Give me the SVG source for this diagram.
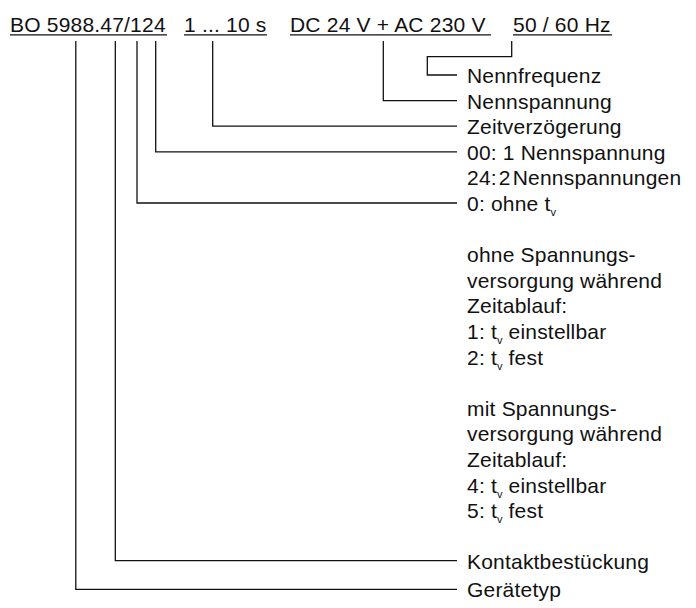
<svg xmlns="http://www.w3.org/2000/svg" width="696" height="608" viewBox="0 0 696 608">
<style>
.t{font-family:"Liberation Sans",Arial,sans-serif;font-size:21px;letter-spacing:0.2px;fill:#111}
.s{font-size:11px;letter-spacing:0}
.c{fill:none;stroke:#111;stroke-width:1.3}
.u{stroke:#111;stroke-width:1.3}
</style>
<rect width="696" height="608" fill="#fff"/>
<g id="header">
<text class="t" x="10" y="31.7">BO 5988.47/124</text>
<line class="u" x1="10" y1="34.8" x2="167" y2="34.8"/>
<text class="t" x="184" y="31.7">1 ... 10 s</text>
<line class="u" x1="184" y1="34.8" x2="267" y2="34.8"/>
<text class="t" x="290" y="31.7">DC 24 V + AC 230 V</text>
<line class="u" x1="290" y1="34.8" x2="491" y2="34.8"/>
<text class="t" x="513" y="31.7">50 / 60 Hz</text>
<line class="u" x1="513" y1="34.8" x2="612" y2="34.8"/>
</g>
<g id="connectors">
<path class="c" d="M511.7,41 V56.7 H427.3 V75 H457"/>
<path class="c" d="M383.3,41 V100.6 H457"/>
<path class="c" d="M212.7,41 V126.2 H457"/>
<path class="c" d="M155.7,41 V151.8 H457"/>
<path class="c" d="M137,41 V203 H457"/>
<path class="c" d="M115.3,41 V560.7 H457"/>
<path class="c" d="M75.8,41 V589.3 H457"/>
</g>
<g id="nennfrequenz"><text class="t" x="467" y="83">Nennfrequenz</text></g>
<g id="nennspannung"><text class="t" x="467" y="108.6">Nennspannung</text></g>
<g id="zeitverzoegerung"><text class="t" x="467" y="134.2">Zeitverzögerung</text></g>
<g id="anzahl">
<text class="t" x="467" y="159.8">00: 1 Nennspannung</text>
<text class="t" x="467" y="185.4" word-spacing="-4">24: 2 Nennspannungen</text>
</g>
<g id="funktion">
<text class="t" x="467" y="211">0: ohne t<tspan class="s" dy="5">v</tspan></text>
<text class="t" x="467" y="262.2">ohne Spannungs-</text>
<text class="t" x="467" y="287.8">versorgung während</text>
<text class="t" x="467" y="313.4">Zeitablauf:</text>
<text class="t" x="467" y="339">1: t<tspan class="s" dy="5">v</tspan><tspan dy="-5"> einstellbar</tspan></text>
<text class="t" x="467" y="364.6">2: t<tspan class="s" dy="5">v</tspan><tspan dy="-5"> fest</tspan></text>
<text class="t" x="467" y="415.8">mit Spannungs-</text>
<text class="t" x="467" y="441.4">versorgung während</text>
<text class="t" x="467" y="467">Zeitablauf:</text>
<text class="t" x="467" y="492.6">4: t<tspan class="s" dy="5">v</tspan><tspan dy="-5"> einstellbar</tspan></text>
<text class="t" x="467" y="518.2">5: t<tspan class="s" dy="5">v</tspan><tspan dy="-5"> fest</tspan></text>
</g>
<g id="kontakt"><text class="t" x="467" y="568.7">Kontaktbestückung</text></g>
<g id="geraetetyp"><text class="t" x="467" y="597.3">Gerätetyp</text></g>
</svg>
